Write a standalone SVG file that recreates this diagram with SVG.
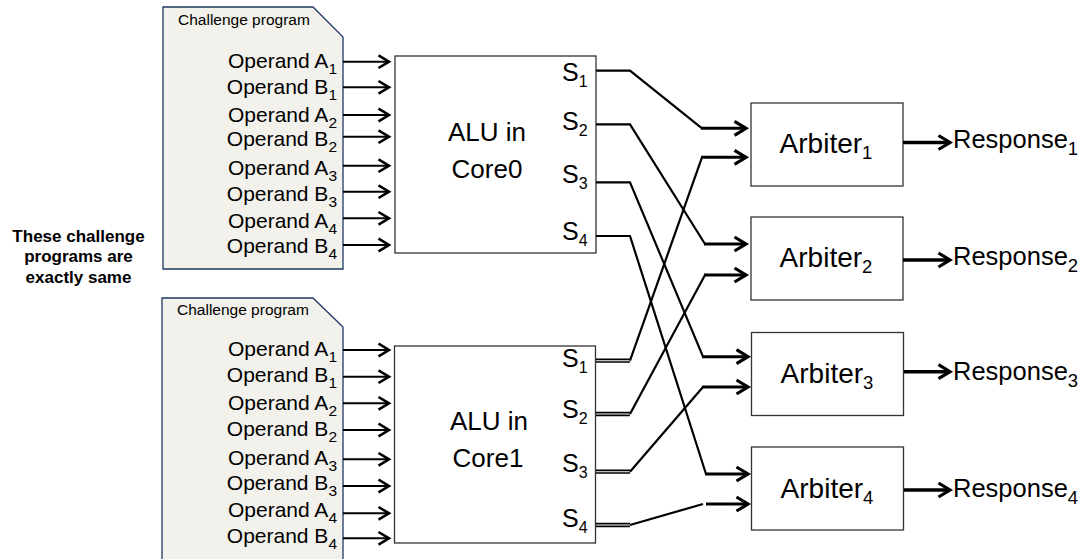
<svg xmlns="http://www.w3.org/2000/svg" width="1085" height="559" viewBox="0 0 1085 559">
<style>
text{font-family:"Liberation Sans",Arial,sans-serif;fill:#000}
.doc{fill:#F2F1EC;stroke:#203864;stroke-width:1.3}
.box{fill:#fff;stroke:#333;stroke-width:1.3}
.cap{font-size:15.5px}
.op{font-size:21px;text-anchor:end}
.opsub{font-size:15.5px}
.core{font-size:26px;text-anchor:middle}
.s{font-size:25px}
.ssub{font-size:16px}
.arb{font-size:28px;text-anchor:middle}
.resp{font-size:25.5px}
.bsub{font-size:18.5px}
.note{font-size:17px;font-weight:bold;text-anchor:middle}
.in{stroke:#000;stroke-width:2;fill:none;marker-end:url(#ah)}
.w{stroke:#000;stroke-width:2.2;fill:none}
.wa{stroke:#000;stroke-width:3;fill:none;marker-end:url(#ah2)}
.dbl{stroke:#000;stroke-width:1.7;fill:none}
.out{stroke:#000;stroke-width:3.5;fill:none;marker-end:url(#ah2)}
</style>
<defs>
<marker id="ah" markerUnits="userSpaceOnUse" markerWidth="20" markerHeight="20" viewBox="-15 -10 20 20" refX="0" refY="0" orient="auto"><path d="M-10.5,-6.3 L0,0 L-10.5,6.3" fill="none" stroke="#000" stroke-width="2.6"/></marker>
<marker id="ah2" markerUnits="userSpaceOnUse" markerWidth="20" markerHeight="20" viewBox="-15 -10 20 20" refX="0" refY="0" orient="auto"><path d="M-11.5,-7 L0,0 L-11.5,7" fill="none" stroke="#000" stroke-width="3.2"/></marker>
</defs>
<rect width="1085" height="559" fill="#fff"/>

<g id="note">
<text class="note" x="78.5" y="241.7">These challenge</text>
<text class="note" x="78.5" y="262.3">programs are</text>
<text class="note" x="78.5" y="283.3">exactly same</text>
</g>

<g id="program0">
<path class="doc" d="M163,7 H313 L343,37 V269 H163 Z"/>
<text class="cap" x="178" y="25">Challenge program</text>
<text class="op" x="337" y="68">Operand A<tspan class="opsub" dy="6">1</tspan></text>
<text class="op" x="337" y="94">Operand B<tspan class="opsub" dy="6">1</tspan></text>
<text class="op" x="337" y="121.5">Operand A<tspan class="opsub" dy="6">2</tspan></text>
<text class="op" x="337" y="146">Operand B<tspan class="opsub" dy="6">2</tspan></text>
<text class="op" x="337" y="175">Operand A<tspan class="opsub" dy="6">3</tspan></text>
<text class="op" x="337" y="201">Operand B<tspan class="opsub" dy="6">3</tspan></text>
<text class="op" x="337" y="227.5">Operand A<tspan class="opsub" dy="6">4</tspan></text>
<text class="op" x="337" y="253">Operand B<tspan class="opsub" dy="6">4</tspan></text>
</g>

<g id="program1">
<path class="doc" d="M162,298 H313 L343,327 V565 H162 Z"/>
<text class="cap" x="177" y="315">Challenge program</text>
<text class="op" x="337" y="356.3">Operand A<tspan class="opsub" dy="6">1</tspan></text>
<text class="op" x="337" y="381.5">Operand B<tspan class="opsub" dy="6">1</tspan></text>
<text class="op" x="337" y="409.6">Operand A<tspan class="opsub" dy="6">2</tspan></text>
<text class="op" x="337" y="436.3">Operand B<tspan class="opsub" dy="6">2</tspan></text>
<text class="op" x="337" y="464.6">Operand A<tspan class="opsub" dy="6">3</tspan></text>
<text class="op" x="337" y="490">Operand B<tspan class="opsub" dy="6">3</tspan></text>
<text class="op" x="337" y="517">Operand A<tspan class="opsub" dy="6">4</tspan></text>
<text class="op" x="337" y="543">Operand B<tspan class="opsub" dy="6">4</tspan></text>
</g>

<g id="alu0">
<rect class="box" x="395" y="56" width="201" height="197"/>
<text class="core" x="487" y="140.7">ALU in</text>
<text class="core" x="487" y="178.3">Core0</text>
<text class="s" x="562" y="81">S<tspan class="ssub" dy="6">1</tspan></text>
<text class="s" x="562" y="130">S<tspan class="ssub" dy="6">2</tspan></text>
<text class="s" x="562" y="183">S<tspan class="ssub" dy="6">3</tspan></text>
<text class="s" x="562" y="240">S<tspan class="ssub" dy="6">4</tspan></text>
</g>

<g id="alu1">
<rect class="box" x="394.5" y="346" width="201" height="197"/>
<text class="core" x="489" y="430">ALU in</text>
<text class="core" x="488" y="466.7">Core1</text>
<text class="s" x="562" y="366.7">S<tspan class="ssub" dy="6">1</tspan></text>
<text class="s" x="562" y="418">S<tspan class="ssub" dy="6">2</tspan></text>
<text class="s" x="562" y="471.7">S<tspan class="ssub" dy="6">3</tspan></text>
<text class="s" x="562" y="527">S<tspan class="ssub" dy="6">4</tspan></text>
</g>

<g id="arbiter1">
<rect class="box" x="751" y="103" width="152" height="83"/>
<text class="arb" x="826" y="153">Arbiter<tspan class="bsub" dy="6">1</tspan></text>
</g>
<g id="arbiter2">
<rect class="box" x="751" y="217" width="152" height="83"/>
<text class="arb" x="826" y="267">Arbiter<tspan class="bsub" dy="6">2</tspan></text>
</g>
<g id="arbiter3">
<rect class="box" x="751.5" y="332.5" width="152" height="83"/>
<text class="arb" x="827" y="383.3">Arbiter<tspan class="bsub" dy="6">3</tspan></text>
</g>
<g id="arbiter4">
<rect class="box" x="751.5" y="447" width="152" height="83"/>
<text class="arb" x="827" y="498.3">Arbiter<tspan class="bsub" dy="6">4</tspan></text>
</g>

<g id="response1"><text class="resp" x="953" y="148.3">Response<tspan class="bsub" dy="7">1</tspan></text></g>
<g id="response2"><text class="resp" x="953" y="265">Response<tspan class="bsub" dy="7">2</tspan></text></g>
<g id="response3"><text class="resp" x="953" y="380">Response<tspan class="bsub" dy="7">3</tspan></text></g>
<g id="response4"><text class="resp" x="953" y="496.7">Response<tspan class="bsub" dy="7">4</tspan></text></g>

<g id="connectors">
<line class="in" x1="343" y1="61.7" x2="389" y2="61.7"/>
<line class="in" x1="343" y1="87.3" x2="389" y2="87.3"/>
<line class="in" x1="343" y1="115" x2="389" y2="115"/>
<line class="in" x1="343" y1="136.7" x2="389" y2="136.7"/>
<line class="in" x1="343" y1="165.7" x2="389" y2="165.7"/>
<line class="in" x1="343" y1="191.7" x2="389" y2="191.7"/>
<line class="in" x1="343" y1="218.3" x2="389" y2="218.3"/>
<line class="in" x1="343" y1="245" x2="389" y2="245"/>
<line class="in" x1="343" y1="350" x2="389" y2="350"/>
<line class="in" x1="343" y1="376.7" x2="389" y2="376.7"/>
<line class="in" x1="343" y1="403.3" x2="389" y2="403.3"/>
<line class="in" x1="343" y1="430" x2="389" y2="430"/>
<line class="in" x1="343" y1="459.3" x2="389" y2="459.3"/>
<line class="in" x1="343" y1="486" x2="389" y2="486"/>
<line class="in" x1="343" y1="513.3" x2="389" y2="513.3"/>
<line class="in" x1="343" y1="538.3" x2="389" y2="538.3"/>
<polyline class="w" points="596,70.7 630,70.7 702,128.3"/>
<polyline class="w" points="596,124.3 630,124.3 705,244"/>
<polyline class="w" points="596,182.3 630,182.3 703,356.7"/>
<polyline class="w" points="596,236 630,236 706,474"/>
<path class="dbl" d="M596,359.4 H630 M596,362 H630 M596,412.7 H630 M596,415.3 H630 M596,470.4 H630 M596,473 H630 M596,523.7 H630 M596,526.3 H630"/>
<polyline class="w" points="630,360.7 702,157.3"/>
<polyline class="w" points="630,414 705,275"/>
<polyline class="w" points="630,471.7 703,387"/>
<polyline class="w" points="630,525 703,504"/>
<line class="wa" x1="701" y1="128.3" x2="746" y2="128.3"/>
<line class="wa" x1="701" y1="157.3" x2="746" y2="157.3"/>
<line class="wa" x1="704" y1="244" x2="746" y2="244"/>
<line class="wa" x1="704" y1="275" x2="746" y2="275"/>
<line class="wa" x1="702" y1="356.7" x2="748" y2="356.7"/>
<line class="wa" x1="702" y1="387" x2="748" y2="387"/>
<line class="wa" x1="705" y1="474" x2="748" y2="474"/>
<line class="wa" x1="706" y1="504" x2="748" y2="504"/>
<line class="out" x1="903" y1="142.5" x2="950" y2="142.5"/>
<line class="out" x1="903" y1="260" x2="950" y2="260"/>
<line class="out" x1="904" y1="371.7" x2="950" y2="371.7"/>
<line class="out" x1="904" y1="490" x2="950" y2="490"/>
</g>
</svg>
